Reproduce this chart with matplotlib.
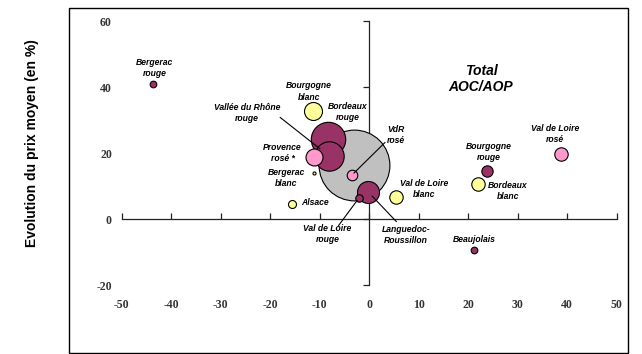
import matplotlib
matplotlib.use("Agg")
import matplotlib.pyplot as plt
from matplotlib.patches import Rectangle

# ---- data ----
names = ["Total\nAOC/AOP", "Bordeaux\nrouge", "Vallée du Rhône\nrouge", "Provence\nrosé *",
         "Bourgogne\nblanc", "Bergerac\nrouge", "Bergerac\nblanc", "VdR\nrosé",
         "Languedoc-\nRoussillon", "Val de Loire\nrouge", "Alsace", "Val de Loire\nblanc",
         "Bourgogne\nrouge", "Bordeaux\nblanc", "Val de Loire\nrosé", "Beaujolais"]
evol_volume = [-3.1, -8.3, -8.2, -11.2, -11.4, -43.6, -11.2, -3.5,
               -0.2, -2.1, -15.5, 5.5, 23.7, 21.9, 38.7, 21.1]
evol_prix = [16.4, 24.3, 19.2, 18.7, 32.8, 40.9, 13.9, 13.3,
             8.2, 6.3, 4.5, 6.6, 14.6, 10.6, 19.7, -9.3]
poids = [1253, 296, 216, 72, 81, 11, 2.3, 28,
         121, 14, 16, 45, 32, 45, 45, 11]
categorie = ["total", "rouge", "rouge", "rose", "blanc", "rouge", "blanc", "rose",
             "rouge", "rouge", "blanc", "blanc", "rouge", "blanc", "rose", "rouge"]
x_ticks = [-50, -40, -30, -20, -10, 0, 10, 20, 30, 40, 50]
y_ticks = [-20, 0, 20, 40, 60]

# ---- styles ----
colors = {"total": "#C0C0C0", "rouge": "#993366", "blanc": "#FFFF99", "rose": "#FF99CC"}
# label positions (data coords), alignment
label_pos = {
    "Total\nAOC/AOP": (22.6, 42.4, "center"),
    "Bordeaux\nrouge": (-4.3, 32.4, "center"),
    "Vallée du Rhône\nrouge": (-24.7, 32.1, "center"),
    "Provence\nrosé *": (-17.5, 20.0, "center"),
    "Bourgogne\nblanc": (-12.2, 38.7, "center"),
    "Bergerac\nrouge": (-43.3, 45.7, "center"),
    "Bergerac\nblanc": (-16.7, 12.4, "center"),
    "VdR\nrosé": (5.4, 25.4, "center"),
    "Languedoc-\nRoussillon": (7.4, -4.8, "center"),
    "Val de Loire\nrouge": (-8.4, -4.5, "center"),
    "Alsace": (-13.8, 5.1, "left"),
    "Val de Loire\nblanc": (11.0, 9.1, "center"),
    "Bourgogne\nrouge": (24.1, 20.3, "center"),
    "Bordeaux\nblanc": (28.0, 8.5, "center"),
    "Val de Loire\nrosé": (37.5, 25.7, "center"),
    "Beaujolais": (21.2, -6.1, "center"),
}
leaders = {
    "Vallée du Rhône\nrouge": ((-18.0, 30.8), 8),
    "VdR\nrosé": ((3.2, 23.2), 2),
    "Val de Loire\nrouge": ((-6.2, -2.0), 2),
    "Languedoc-\nRoussillon": ((5.5, -0.8), 4),
}

W, H = 642, 354
fig = plt.figure(figsize=(W / 100, H / 100), dpi=100)
fig.patch.set_facecolor("white")
fig.patches.append(Rectangle((69 / W, 1.5 / H), 559 / W, 344.5 / H, transform=fig.transFigure,
                             fill=False, edgecolor="black", linewidth=1.0))

pos = [121.7 / W, (H - 285) / H, (616.7 - 121.7) / W, (285 - 21) / H]

# axis lines crossing at zero
axl = fig.add_axes(pos)
axl.set_xlim(-50, 50)
axl.set_ylim(-20, 60)
axl.patch.set_visible(False)
for s in ["top", "right"]:
    axl.spines[s].set_visible(False)
axl.spines["left"].set_position(("data", 0))
axl.spines["bottom"].set_position(("data", 0))
axl.spines["left"].set_linewidth(0.9)
axl.spines["bottom"].set_linewidth(0.9)
axl.spines["left"].set_color("#222222")
axl.spines["bottom"].set_color("#222222")
axl.set_xticks(x_ticks)
axl.set_yticks(y_ticks)
axl.tick_params(axis="x", direction="in", length=4, width=0.9, colors="#222222", labelbottom=False)
axl.tick_params(axis="y", direction="out", length=4, width=0.9, colors="#222222", labelleft=False)

# main axes with bubbles and tick labels
ax = fig.add_axes(pos, sharex=axl, sharey=axl)
ax.patch.set_visible(False)
for s in ax.spines.values():
    s.set_visible(False)
ax.set_xlim(-50, 50)
ax.set_ylim(-20, 60)
ax.set_xticks(x_ticks)
ax.set_yticks(y_ticks)
ax.tick_params(length=0)
ax.tick_params(axis="x", pad=10)
ax.tick_params(axis="y", pad=7)
tick_font = dict(family="Liberation Serif", weight="bold", size=8.5)
ax.set_xticklabels([str(v) for v in x_ticks], fontdict=tick_font, color="#333333")
ax.set_yticklabels([str(v) for v in y_ticks], fontdict=tick_font, color="#333333")

for n, x, y, p, c in zip(names, evol_volume, evol_prix, poids, categorie):
    ax.scatter([x], [y], s=p * 2.0736, color=colors[c], edgecolors="black",
               linewidths=0.8, zorder=3, clip_on=False)

for n, x, y in zip(names, evol_volume, evol_prix):
    if n in leaders:
        (sx, sy), shr = leaders[n]
        ax.annotate("", xy=(x, y), xytext=(sx, sy),
                    arrowprops=dict(arrowstyle="-", color="black", lw=0.8,
                                    shrinkA=0, shrinkB=shr), zorder=4)

for n in names:
    lx, ly, ha = label_pos[n]
    big = n.startswith("Total")
    ax.text(lx, ly, n, ha=ha, va="center", family="Liberation Sans",
            weight="bold", style="italic", size=10 if big else 6.2,
            linespacing=1.25 if big else 1.35, color="black", zorder=5)

fig.text(32 / W, 1 - 143 / H, "Evolution du prix moyen (en %)", rotation=90,
         ha="center", va="center", family="Liberation Sans", weight="bold", size=10)

fig.savefig("out.png", dpi=100)
